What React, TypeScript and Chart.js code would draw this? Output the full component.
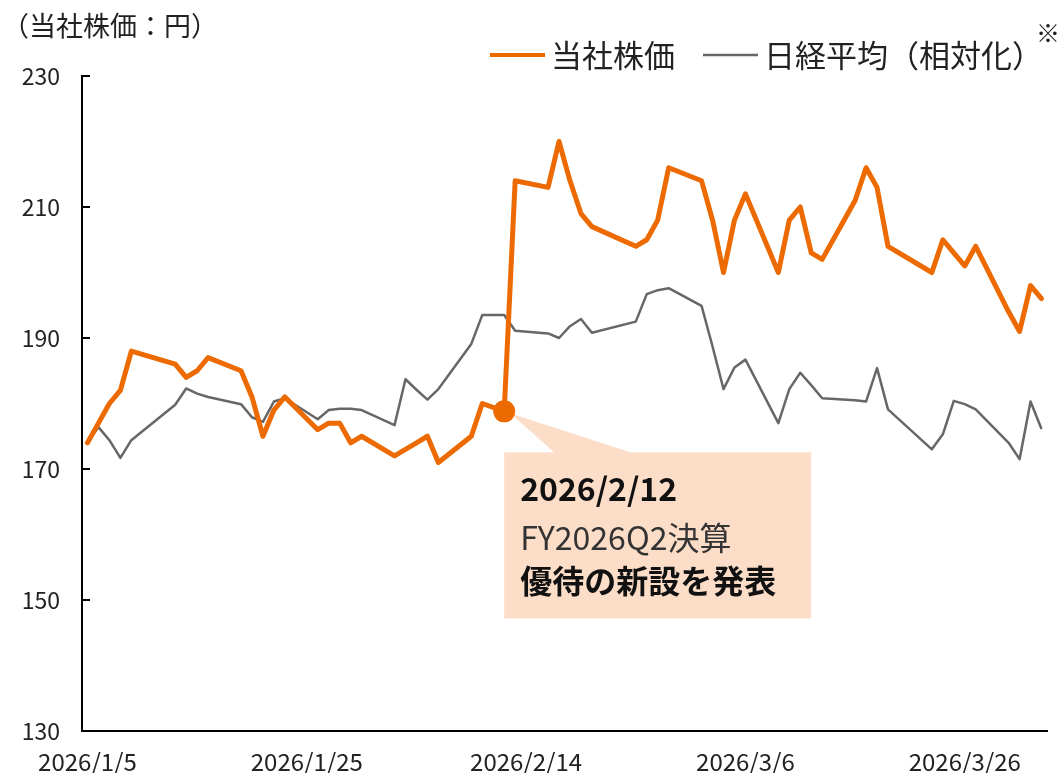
import React, { useEffect, useRef } from "react";
import { Chart, registerables } from "chart.js";

Chart.register(...registerables);

// ---------- data ----------
const dates = [
  "2026/1/5", "2026/1/6", "2026/1/7", "2026/1/8", "2026/1/9",
  "2026/1/13", "2026/1/14", "2026/1/15", "2026/1/16",
  "2026/1/19", "2026/1/20", "2026/1/21", "2026/1/22", "2026/1/23",
  "2026/1/26", "2026/1/27", "2026/1/28", "2026/1/29", "2026/1/30",
  "2026/2/2", "2026/2/3", "2026/2/4", "2026/2/5", "2026/2/6",
  "2026/2/9", "2026/2/10", "2026/2/12", "2026/2/13",
  "2026/2/16", "2026/2/17", "2026/2/18", "2026/2/19", "2026/2/20",
  "2026/2/24", "2026/2/25", "2026/2/26", "2026/2/27",
  "2026/3/2", "2026/3/3", "2026/3/4", "2026/3/5", "2026/3/6",
  "2026/3/9", "2026/3/10", "2026/3/11", "2026/3/12", "2026/3/13",
  "2026/3/16", "2026/3/17", "2026/3/18", "2026/3/19",
  "2026/3/23", "2026/3/24", "2026/3/25", "2026/3/26", "2026/3/27",
  "2026/3/30", "2026/3/31", "2026/4/1", "2026/4/2",
];

const companyPrice = [
  174, 177, 180, 182, 188,
  186, 184, 185, 187,
  185, 181, 175, 179, 181,
  176, 177, 177, 174, 175,
  172, 173, 174, 175, 171,
  175, 180, 178.8, 214,
  213, 220, 214, 209, 207,
  204, 205, 208, 216,
  214, 208, 200, 208, 212,
  200, 208, 210, 203, 202,
  211, 216, 213, 204,
  200, 205, 203, 201, 204,
  194, 191, 198, 196,
];

const nikkeiRelative = [
  174.0, 176.4, 174.4, 171.7, 174.4,
  179.8, 182.3, 181.5, 181.0,
  179.9, 177.9, 177.2, 180.3, 180.8,
  177.6, 179.0, 179.2, 179.2, 179.0,
  176.7, 183.7, 182.1, 180.6, 182.2,
  189.1, 193.5, 193.5, 191.1,
  190.7, 190.0, 191.8, 192.9, 190.8,
  192.5, 196.7, 197.3, 197.6,
  194.9, 188.7, 182.2, 185.5, 186.7,
  177.0, 182.2, 184.7, 182.8, 180.8,
  180.5, 180.3, 185.4, 179.1,
  173.0, 175.3, 180.4, 179.9, 179.1,
  174.0, 171.5, 180.3, 176.1,
];

const xTickDates = ["2026/1/5", "2026/1/25", "2026/2/14", "2026/3/6", "2026/3/26"];
const yMin = 130;
const yMax = 230;
const yStep = 20;

const seriesLabels = ["当社株価", "日経平均（相対化）"];
const unitTitle = "（当社株価：円）";
const legendNote = "※";
const eventDate = "2026/2/12";
const eventLines = ["2026/2/12", "FY2026Q2決算", "優待の新設を発表"];

// ---------- styles ----------
const ORANGE = "#EC6A00";
const GRAY = "#676767";
const CALLOUT_BG = "#FCDDC8";
const FONT = "'Noto Sans CJK JP', 'Noto Sans', sans-serif";

function dayIndex(s: string): number {
  const [y, m, d] = s.split("/").map(Number);
  const [y0, m0, d0] = dates[0].split("/").map(Number);
  return Math.round((Date.UTC(y, m - 1, d) - Date.UTC(y0, m0 - 1, d0)) / 86400000);
}

const lastDay = dayIndex(dates[dates.length - 1]);

const headerPlugin = {
  id: "header",
  afterDraw(chart: any) {
    const ctx = chart.ctx;
    ctx.save();
    ctx.textBaseline = "middle";
    ctx.textAlign = "left";
    ctx.fillStyle = "#222";
    ctx.font = `27px ${FONT}`;
    ctx.fillText(unitTitle, 2, 26);

    ctx.font = `31px ${FONT}`;
    let x = 490;
    const y = 55;
    chart.data.datasets.forEach((ds: any, i: number) => {
      ctx.strokeStyle = ds.borderColor;
      ctx.lineWidth = i === 0 ? 4 : 2.5;
      ctx.beginPath();
      ctx.moveTo(x, y);
      ctx.lineTo(x + 55, y);
      ctx.stroke();
      x += 55 + 6;
      ctx.fillStyle = "#222";
      ctx.fillText(ds.label, x, y);
      x += ctx.measureText(ds.label).width + 28;
    });
    ctx.font = `24px ${FONT}`;
    ctx.fillText(legendNote, x - 35, 33);
    ctx.restore();
  },
};

const calloutPlugin = {
  id: "callout",
  beforeDatasetsDraw(chart: any) {
    const xs = chart.scales.x;
    const ys = chart.scales.y;
    const i = dates.indexOf(eventDate);
    const px = xs.getPixelForValue(dayIndex(eventDate));
    const py = ys.getPixelForValue(companyPrice[i]);
    const ctx = chart.ctx;
    ctx.save();
    ctx.fillStyle = CALLOUT_BG;
    const top = py + 41;
    ctx.beginPath();
    ctx.moveTo(px + 6, py + 2);
    ctx.lineTo(px + 129, top + 1);
    ctx.lineTo(px + 51, top + 1);
    ctx.closePath();
    ctx.fill();
    ctx.fillRect(px, top, 307, 166);
    ctx.textBaseline = "middle";
    ctx.textAlign = "left";
    ctx.fillStyle = "#111";
    ctx.font = `bold 32px ${FONT}`;
    ctx.fillText(eventLines[0], px + 16, py + 77);
    ctx.fillStyle = "#333";
    ctx.font = `32px ${FONT}`;
    ctx.fillText(eventLines[1], px + 16, py + 126);
    ctx.fillStyle = "#111";
    ctx.font = `bold 32px ${FONT}`;
    ctx.fillText(eventLines[2], px + 16, py + 169);
    ctx.restore();
  },
};

const yTickMarksPlugin = {
  id: "yTickMarks",
  afterDraw(chart: any) {
    const ys = chart.scales.y;
    const left = chart.chartArea.left;
    const ctx = chart.ctx;
    ctx.save();
    ctx.strokeStyle = "#000";
    ctx.lineWidth = 2;
    ys.ticks.forEach((t: any) => {
      const p = Math.round(ys.getPixelForValue(t.value));
      ctx.beginPath();
      ctx.moveTo(left, p);
      ctx.lineTo(left + 8, p);
      ctx.stroke();
    });
    ctx.restore();
  },
};

export default function App() {
  const ref = useRef<HTMLCanvasElement>(null);
  useEffect(() => {
    document.body.style.margin = "0";
    const eventIdx = dates.indexOf(eventDate);
    const chart = new Chart(ref.current as HTMLCanvasElement, {
      type: "line",
      data: {
        datasets: [
          {
            label: seriesLabels[0],
            data: dates.map((d, i) => ({ x: dayIndex(d), y: companyPrice[i] })),
            borderColor: ORANGE,
            backgroundColor: ORANGE,
            borderWidth: 5,
            borderJoinStyle: "round",
            borderCapStyle: "round",
            pointRadius: (c: any) => (c.dataIndex === eventIdx ? 11 : 0),
            pointBorderWidth: 0,
            pointBackgroundColor: ORANGE,
            tension: 0,
          },
          {
            label: seriesLabels[1],
            data: dates.map((d, i) => ({ x: dayIndex(d), y: nikkeiRelative[i] })),
            borderColor: GRAY,
            backgroundColor: GRAY,
            borderWidth: 2.5,
            borderJoinStyle: "round",
            pointRadius: 0,
            tension: 0,
          },
        ],
      },
      options: {
        responsive: false,
        animation: false,
        events: [],
        layout: { padding: { top: 76, right: 14, bottom: 0, left: 0 } },
        plugins: {
          legend: { display: false },
          title: { display: false },
          tooltip: { enabled: false },
        },
        scales: {
          x: {
            type: "linear",
            min: -0.5,
            max: lastDay + 0.5,
            afterBuildTicks: (s: any) => {
              s.ticks = xTickDates.map((d) => ({ value: dayIndex(d) }));
            },
            afterFit: (s: any) => {
              s.height = 42;
            },
            grid: { display: false, drawTicks: false },
            border: { display: true, color: "#000", width: 2 },
            ticks: {
              autoSkip: false,
              maxRotation: 0,
              padding: 16,
              color: "#222",
              font: { family: FONT, size: 24 },
              callback: (v: any) => {
                const d = xTickDates.find((t) => dayIndex(t) === v);
                return d ?? "";
              },
            },
          },
          y: {
            min: yMin,
            max: yMax,
            afterFit: (s: any) => {
              s.width = 82;
            },
            grid: { display: false, drawTicks: false },
            border: { display: true, color: "#000", width: 2 },
            ticks: {
              stepSize: yStep,
              padding: 22,
              color: "#222",
              font: { family: FONT, size: 23 },
            },
          },
        },
      },
      plugins: [calloutPlugin, yTickMarksPlugin, headerPlugin],
    } as any);
    return () => chart.destroy();
  }, []);

  return (
    <div style={{ width: 1061, height: 773 }}>
      <canvas ref={ref} width={1061} height={773} style={{ display: "block", width: 1061, height: 773 }} />
    </div>
  );
}
